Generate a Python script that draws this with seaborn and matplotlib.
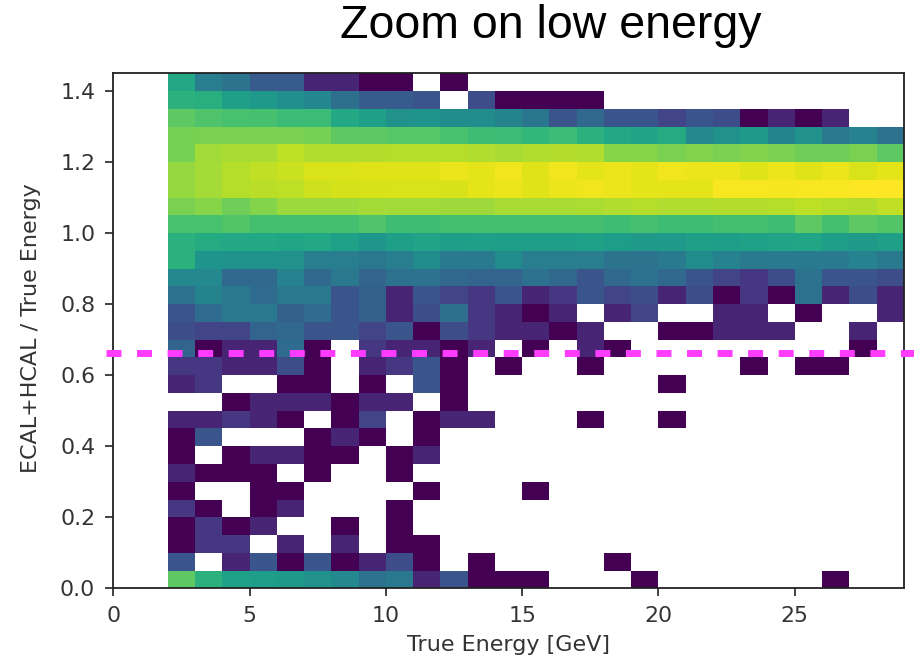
import numpy as np
import pandas as pd
import matplotlib
matplotlib.use("Agg")
import matplotlib.pyplot as plt
import matplotlib.transforms as mtransforms
from matplotlib.colors import LogNorm
import seaborn as sns

# Bin edges of the 2D histogram
energy_edges = np.arange(2, 30, 1)                 # True Energy [GeV]: 27 bins, 2-29
ratio_edges = np.round(np.arange(0, 1.4501, 0.05), 2)  # ECAL+HCAL / True Energy: 29 bins

# Entries per bin. Rows run from the top ratio bin (1.40-1.45) down to the
# bottom one (0.00-0.05); columns run from 2-3 GeV up to 28-29 GeV. 0 = empty.
counts = [
    [63, 18, 14, 7, 7, 2, 2, 1, 1, 0, 1, 0, 0, 0, 0, 0, 0, 0, 0, 0, 0, 0, 0, 0, 0, 0, 0],
    [83, 78, 48, 41, 30, 24, 12, 7, 7, 6, 0, 5, 1, 1, 1, 1, 0, 0, 0, 0, 0, 0, 0, 0, 0, 0, 0],
    [178, 145, 135, 130, 110, 110, 63, 48, 32, 36, 28, 28, 22, 15, 6, 10, 6, 6, 4, 6, 5, 1, 2, 1, 2, 0, 0],
    [234, 251, 251, 251, 251, 234, 178, 178, 166, 166, 135, 117, 110, 95, 110, 83, 63, 55, 68, 26, 32, 41, 22, 32, 16, 21, 13],
    [234, 380, 407, 407, 501, 437, 437, 450, 468, 468, 468, 437, 407, 437, 450, 437, 288, 288, 251, 269, 251, 269, 251, 219, 219, 251, 178],
    [331, 395, 468, 520, 575, 685, 685, 708, 708, 708, 813, 759, 871, 708, 871, 759, 813, 759, 871, 813, 813, 708, 813, 708, 813, 685, 759],
    [331, 395, 468, 485, 501, 595, 640, 661, 685, 685, 661, 759, 813, 708, 813, 871, 813, 759, 759, 759, 933, 933, 902, 933, 933, 1000, 1000],
    [251, 288, 219, 280, 355, 355, 355, 395, 380, 380, 368, 368, 407, 407, 407, 420, 437, 468, 437, 437, 450, 450, 468, 501, 468, 450, 520],
    [135, 135, 155, 126, 126, 126, 126, 145, 117, 117, 126, 126, 126, 126, 126, 126, 117, 130, 117, 117, 126, 126, 117, 178, 126, 178, 155],
    [83, 68, 63, 63, 59, 63, 51, 38, 48, 55, 45, 48, 45, 45, 45, 51, 45, 41, 41, 48, 45, 51, 55, 59, 45, 41, 48],
    [83, 36, 34, 34, 32, 18, 18, 16, 18, 28, 17, 17, 28, 18, 18, 18, 14, 14, 17, 28, 21, 17, 17, 17, 17, 21, 17],
    [26, 26, 10, 10, 21, 10, 16, 9, 13, 13, 10, 9, 9, 13, 10, 6, 10, 13, 10, 6, 4, 3, 5, 13, 6, 6, 5],
    [13, 22, 16, 11, 16, 16, 6, 8, 2, 6, 4, 3, 6, 2, 3, 6, 4, 5, 2, 5, 1, 3, 1, 13, 2, 5, 2],
    [6, 11, 16, 16, 8, 11, 6, 8, 2, 5, 12, 3, 2, 1, 2, 0, 2, 4, 0, 0, 2, 2, 0, 1, 0, 0, 2],
    [5, 4, 4, 9, 10, 6, 6, 4, 6, 1, 5, 3, 2, 2, 1, 2, 0, 0, 1, 1, 2, 2, 2, 0, 0, 2, 0],
    [9, 1, 2, 2, 11, 1, 0, 3, 2, 2, 1, 2, 0, 1, 0, 2, 1, 0, 0, 0, 0, 0, 0, 0, 0, 1, 0],
    [3, 3, 2, 2, 5, 1, 0, 2, 3, 6, 1, 0, 1, 0, 0, 1, 0, 0, 0, 0, 0, 1, 0, 1, 1, 0, 0],
    [2, 3, 0, 0, 1, 1, 0, 1, 0, 6, 1, 0, 0, 0, 0, 0, 0, 0, 1, 0, 0, 0, 0, 0, 0, 0, 0],
    [0, 0, 1, 2, 2, 2, 1, 2, 2, 0, 1, 0, 0, 0, 0, 0, 0, 0, 0, 0, 0, 0, 0, 0, 0, 0, 0],
    [2, 2, 3, 2, 1, 0, 1, 4, 0, 1, 2, 2, 0, 0, 0, 1, 0, 0, 1, 0, 0, 0, 0, 0, 0, 0, 0],
    [1, 6, 0, 0, 0, 1, 2, 1, 0, 1, 0, 0, 0, 0, 0, 0, 0, 0, 0, 0, 0, 0, 0, 0, 0, 0, 0],
    [1, 0, 1, 2, 2, 1, 1, 0, 1, 2, 0, 0, 0, 0, 0, 0, 0, 0, 0, 0, 0, 0, 0, 0, 0, 0, 0],
    [2, 1, 1, 1, 0, 1, 0, 0, 1, 0, 0, 0, 0, 0, 0, 0, 0, 0, 0, 0, 0, 0, 0, 0, 0, 0, 0],
    [1, 0, 0, 1, 1, 0, 0, 0, 0, 1, 0, 0, 0, 1, 0, 0, 0, 0, 0, 0, 0, 0, 0, 0, 0, 0, 0],
    [3, 1, 0, 1, 2, 0, 0, 0, 1, 0, 0, 0, 0, 0, 0, 0, 0, 0, 0, 0, 0, 0, 0, 0, 0, 0, 0],
    [1, 3, 1, 2, 0, 0, 1, 0, 1, 0, 0, 0, 0, 0, 0, 0, 0, 0, 0, 0, 0, 0, 0, 0, 0, 0, 0],
    [1, 3, 3, 0, 2, 0, 2, 0, 1, 1, 0, 0, 0, 0, 0, 0, 0, 0, 0, 0, 0, 0, 0, 0, 0, 0, 0],
    [6, 0, 2, 6, 1, 6, 1, 2, 5, 1, 0, 1, 0, 0, 0, 0, 1, 0, 0, 0, 0, 0, 0, 0, 0, 0, 0],
    [178, 83, 51, 45, 41, 32, 26, 13, 16, 2, 6, 1, 1, 1, 0, 0, 0, 1, 0, 0, 0, 0, 0, 0, 1, 0, 0],
]

cut_value = 0.662   # response cut drawn as the dashed line

x_ticks = [0, 5, 10, 15, 20, 25]
y_ticks = [0.0, 0.2, 0.4, 0.6, 0.8, 1.0, 1.2, 1.4]

# Long-form table: one weighted entry at the centre of every filled bin
records = []
n_rows = len(counts)
for r, row in enumerate(counts):
    y_lo = ratio_edges[n_rows - 1 - r]
    for c, n in enumerate(row):
        if n > 0:
            records.append((energy_edges[c] + 0.5, y_lo + 0.025, n))
df = pd.DataFrame(records, columns=["energy", "ratio", "entries"])

plt.rcParams["font.family"] = ["DejaVu Sans"]
fig = plt.figure(figsize=(9.14, 6.64), dpi=100)
ax = fig.add_axes([113.3 / 914, 1 - 588.3 / 664, 790.5 / 914, 515 / 664])

sns.histplot(
    data=df, x="energy", y="ratio", weights="entries",
    bins=[energy_edges, ratio_edges], cmap="viridis", ax=ax,
)
mesh = ax.collections[0]
mesh.set_norm(LogNorm(vmin=1, vmax=1000))

ax.set_xlim(0, 29)
ax.set_ylim(0, 1.45)
ax.set_xticks(x_ticks)
ax.set_yticks(y_ticks)
ax.set_yticklabels([f"{v:.1f}" for v in y_ticks])
ax.tick_params(labelsize=15.8, length=5.5, width=1.2, pad=7.5, colors="#222222",
               labelcolor="#333333")
for sp in ax.spines.values():
    sp.set_linewidth(1.3)
    sp.set_color("#222222")
    sp.set_visible(True)

ax.set_xlabel("True Energy [GeV]", fontsize=16, color="#333333")
ax.set_ylabel("ECAL+HCAL / True Energy", fontsize=16, color="#333333")
ax.xaxis.set_label_coords(0.5, -0.09)
ax.yaxis.set_label_coords(-0.092, 0.505)

# Dashed cut line, running past both ends of the axes
blend = mtransforms.blended_transform_factory(ax.transAxes, ax.transData)
ax.plot([-0.009, 1.013], [cut_value, cut_value], transform=blend, clip_on=False,
        color="#ff3cff", lw=5.0, linestyle=(0, (2.15, 2.25)), dash_capstyle="butt",
        zorder=5)

fig.text(0.603, 1 - 38 / 664, "Zoom on low energy", ha="center", va="baseline",
         fontsize=33.5, family=["Liberation Sans", "DejaVu Sans"], color="black")

fig.savefig("out.png", dpi=100, facecolor="white")
